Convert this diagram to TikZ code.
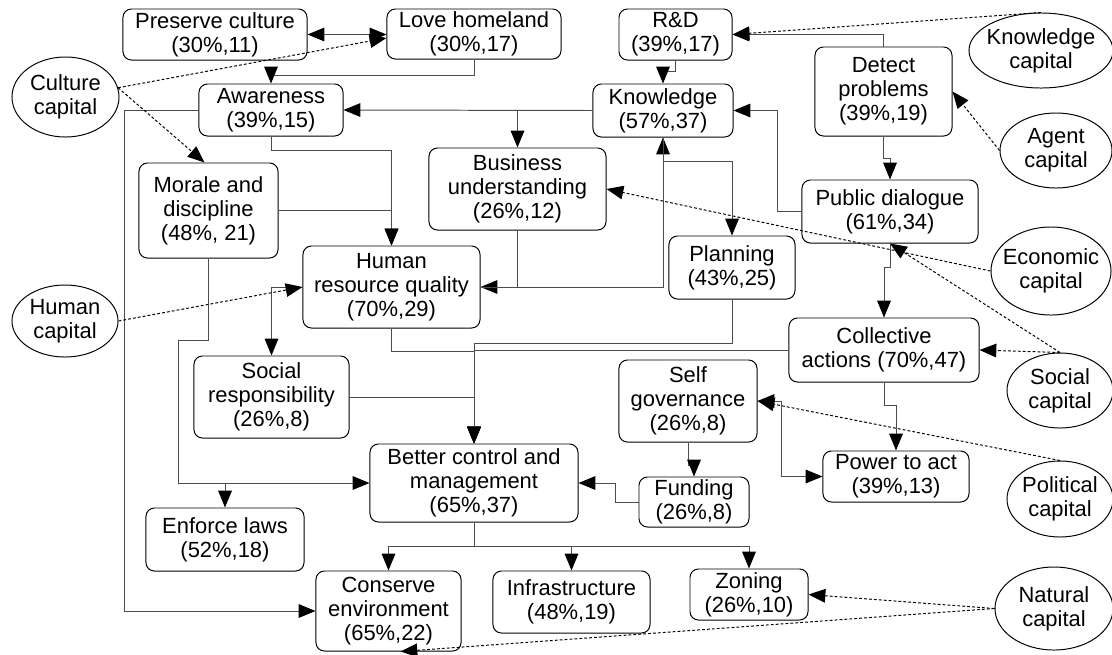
\documentclass[tikz,border=0pt]{standalone}
\usepackage{fontspec}
\setmainfont{Liberation Sans}
\usetikzlibrary{arrows.meta,shapes.geometric,calc}
\newcommand\boxfont{\fontsize{15.6}{17}\selectfont}
\tikzset{
  block/.style={rectangle, rounded corners=6pt, draw=black, line width=0.7pt,
                align=center, font=\boxfont, inner sep=0pt},
  capital/.style={ellipse, draw=black, line width=0.7pt, align=center,
                  font=\boxfont, inner xsep=-2mm, inner ysep=0pt},
  arr/.style={-{Triangle[length=4.2mm, width=3.4mm, color=black]}, line width=0.7pt, draw=black!70},
  arrboth/.style={{Triangle[length=4.2mm, width=3.4mm, color=black]}-{Triangle[length=4.2mm, width=3.4mm, color=black]},
                  line width=0.7pt, draw=black!70},
  dotarr/.style={-{Triangle[length=4.2mm, width=3.4mm]}, line width=0.7pt, draw=black, dash pattern=on 2pt off 1.5pt},
}

\begin{document}
\begin{tikzpicture}[x=0.025cm, y=-0.025cm]
  \useasboundingbox (0,0) rectangle (1112,654);
  % outcomes
  \node[block, minimum width=4.6cm, minimum height=1.275cm] (pc) at (215,34.5) {Preserve culture\\(30\%,11)};
  \node[block, minimum width=4.35cm, minimum height=1.25cm] (lh) at (474,34) {Love homeland\\(30\%,17)};
  \node[block, minimum width=2.825cm, minimum height=1.275cm] (rd) at (675.5,34.5) {R\&D\\(39\%,17)};
  \node[block, minimum width=3.5cm, minimum height=1.325cm] (kn) at (663,110.5) {Knowledge\\(57\%,37)};
  \node[block, minimum width=3.6cm, minimum height=1.3cm] (aw) at (271,110) {Awareness\\(39\%,15)};
  \node[block, minimum width=3.475cm, minimum height=2.375cm] (md) at (208.5,210.5) {Morale and\\discipline\\(48\%, 21)};
  \node[block, minimum width=4.425cm, minimum height=2.05cm] (bu) at (517.5,189) {Business\\understanding\\(26\%,12)};
  \node[block, minimum width=3.425cm, minimum height=2.225cm] (dp) at (883.5,91.5) {Detect\\problems\\(39\%,19)};
  \node[block, minimum width=4.4cm, minimum height=1.575cm] (pd) at (890,211.5) {Public dialogue\\(61\%,34)};
  \node[block, minimum width=4.425cm, minimum height=2.05cm] (hr) at (391.5,287) {Human\\resource quality\\(70\%,29)};
  \node[block, minimum width=3.15cm, minimum height=1.575cm] (pl) at (732,267.5) {Planning\\(43\%,25)};
  \node[block, minimum width=4.75cm, minimum height=1.6cm] (ca) at (884,350) {Collective\\actions (70\%,47)};
  \node[block, minimum width=3.875cm, minimum height=2.05cm] (sr) at (271.5,397) {Social\\responsibility\\(26\%,8)};
  \node[block, minimum width=3.45cm, minimum height=2.05cm] (sg) at (688,401) {Self\\governance\\(26\%,8)};
  \node[block, minimum width=5.2cm, minimum height=1.95cm] (bc) at (474,483) {Better control and\\management\\(65\%,37)};
  \node[block, minimum width=2.75cm, minimum height=1.25cm] (fu) at (694,502) {Funding\\(26\%,8)};
  \node[block, minimum width=3.65cm, minimum height=1.275cm] (pa) at (896,476.5) {Power to act\\(39\%,13)};
  \node[block, minimum width=3.95cm, minimum height=1.575cm] (el) at (225,539.5) {Enforce laws\\(52\%,18)};
  \node[block, minimum width=3.625cm, minimum height=2cm] (ce) at (388.5,611) {Conserve\\environment\\(65\%,22)};
  \node[block, minimum width=3.925cm, minimum height=1.55cm] (in) at (571.5,602) {Infrastructure\\(48\%,19)};
  \node[block, minimum width=2.95cm, minimum height=1.275cm] (zo) at (749,594.5) {Zoning\\(26\%,10)};
  % capitals
  \node[capital, minimum width=2.675cm, minimum height=2cm] (cc) at (65.5,97) {Culture\\capital};
  \node[capital, minimum width=2.65cm, minimum height=1.8cm] (hc) at (65,321) {Human\\capital};
  \node[capital, minimum width=3.6cm, minimum height=1.875cm] (kc) at (1041,50.5) {Knowledge\\capital};
  \node[capital, minimum width=2.8cm, minimum height=1.875cm] (ac) at (1056,150.5) {Agent\\capital};
  \node[capital, minimum width=3cm, minimum height=2.2cm] (ec) at (1051,271) {Economic\\capital};
  \node[capital, minimum width=2.65cm, minimum height=1.875cm] (sc) at (1060,390.5) {Social\\capital};
  \node[capital, minimum width=2.65cm, minimum height=1.9cm] (po) at (1060,499) {Political\\capital};
  \node[capital, minimum width=2.95cm, minimum height=2.075cm] (nc) at (1054,608.5) {Natural\\capital};

  % links between outcomes
  \draw[arrboth] (pc.east) -- (pc.east -| lh.west);
  \draw[arr] (lh.south) -- ++(0,16) -| (aw.north);
  \draw[arr] (aw.west) -- ++(-74,0) |- (ce.west);
  \draw[arr] (kn.west) -- (aw.east);
  \draw[arr] (kn.west) -| (bu.north);
  \draw[arr] (aw.south) -- ++(0,14) -| (hr.north);
  \draw[arr] (md.east) -| (hr.north);
  \draw[arr] (md.south) -- ++(0,82) -- ++(-30,0) |- (bc.west);
  \draw[arr] (el.north |- bc.west) -- (el.north);
  \draw[arr] (hr.west) -| (sr.north);
  \draw[arr] (bu.south) |- (hr.east);
  \draw[arr] (hr.east) -| (kn.south);
  \draw[arr] (kn.south) -- ++(0,24) -| (pl.north);
  \draw[arr] (pd.west) -- ++(-24,0) |- (kn.east);
  \draw[arr] (dp.north) |- (rd.east);
  \draw[arr] (rd.south) -- ++(0,11) -| (kn.north);
  \draw[arr] (dp.south) -- ++(0,22) -| (pd.north);
  \draw[arr] (pd.south) -- ++(0,24) -| (ca.north);
  \draw[arr] (ca.south) -- ++(0,23) -| (pa.north);
  \draw[arr] (ca.west) -| (bc.north);
  \draw[arr] (pl.south) -- ++(0,44) -| (bc.north);
  \draw[arr] (hr.south) -- ++(0,23) -| (bc.north);
  \draw[arr] (sr.east) -| (bc.north);
  \draw[arr] (sg.south) -- ++(0,23) -| (fu.north);
  \draw[arrboth] (sg.east) -- ++(24,0) |- (pa.west);
  \draw[arr] (fu.west) -- ++(-23,0) |- (bc.east);
  \foreach \t in {ce,in,zo}
    \draw[arr] (bc.south) -- ++(0,24) -| (\t.north);

  % capitals feeding outcomes
  \draw[dotarr] (cc.10) -- ([yshift=-1mm]lh.west);
  \draw[dotarr] (cc.10) -- ([xshift=-1mm]md.north);
  \draw[dotarr] (hc.east) -- (hr.west);
  \draw[dotarr] (kc.north) -- (rd.east);
  \draw[dotarr] (ac.west) -- (dp.east);
  \draw[dotarr] (ec.west) -- (bu.east);
  \draw[dotarr] (sc.north) -- (pd.south);
  \draw[dotarr] (sc.north) -- (ca.east);
  \draw[dotarr] (po.north) -- (sg.east);
  \draw[dotarr] (nc.west) -- (zo.east);
  \draw[dotarr] (nc.west) -- ([xshift=3mm]ce.south);
\end{tikzpicture}
\end{document}
